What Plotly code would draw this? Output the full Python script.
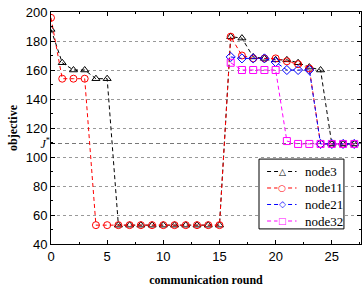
import plotly.graph_objects as go

rounds = list(range(28))
node3 = [188, 165, 160, 160, 154, 154, 53, 53, 53, 53, 53, 53, 53, 53, 53, 53,
         183, 182, 169, 168, 167, 167, 165, 162, 160, 109, 109, 109]
node11 = [196, 154, 154, 154, 53, 53, 53, 53, 53, 53, 53, 53, 53, 53, 53, 53,
          183, 170, 168, 168, 168, 166, 164, 161, 109, 109, 109, 109]
node21 = [None] * 16 + [169, 168, 168, 168, 165.5, 160, 160, 160, 109, 109, 109, 109]
node32 = [None] * 16 + [165, 160, 160, 160, 160, 111, 109, 109, 109, 109, 109, 109]
Jstar = 109

series = [
    ("node3", node3, "black", "triangle-up-open", "\u25B3"),
    ("node11", node11, "red", "circle-open", "\u25CB"),
    ("node21", node21, "blue", "diamond-open", "\u25C7"),
    ("node32", node32, "magenta", "square-open", "\u25A1"),
]

xticks = [0, 5, 10, 15, 20, 25]
yticks = [40, 60, 80, 100, 120, 140, 160, 180, 200]

DASH = "4px,3px"

fig = go.Figure()
for name, vals, col, sym, _g in series:
    fig.add_trace(go.Scatter(
        x=rounds, y=vals, name=name, mode="lines+markers",
        line=dict(color=col, width=1, dash=DASH),
        marker=dict(symbol=sym, size=7, color=col, line=dict(color=col, width=1)),
        connectgaps=False, showlegend=False,
    ))

fig.add_trace(go.Scatter(x=[0], y=[Jstar], yaxis="y2", mode="markers",
                         marker=dict(opacity=0), showlegend=False, hoverinfo="skip"))

serif = "Liberation Serif, Times New Roman"
tickfont = dict(family="Liberation Sans, Arial", size=13, color="black")

# manual legend (layout, paper coordinates)
shapes = [dict(type="rect", xref="paper", yref="paper", x0=0.671, x1=0.945,
               y0=0.065, y1=0.366, line=dict(color="black", width=1),
               fillcolor="white", layer="above")]
annotations = []
entry_y = [0.3125, 0.2414, 0.1703, 0.0991]
for (name, _v, col, _s, glyph), ly in zip(series, entry_y):
    shapes.append(dict(type="line", xref="paper", yref="paper", x0=0.697, x1=0.792,
                       y0=ly, y1=ly, line=dict(color=col, width=1, dash=DASH),
                       layer="above"))
    annotations.append(dict(xref="paper", yref="paper", x=0.746, y=ly, text=glyph,
                            showarrow=False, xanchor="center", yanchor="middle",
                            bgcolor="white", borderpad=0,
                            font=dict(family="DejaVu Sans", size=9, color=col)))
    annotations.append(dict(xref="paper", yref="paper", x=0.812, y=ly, text=name,
                            showarrow=False, xanchor="left", yanchor="middle",
                            font=dict(family=serif, size=13, color="black")))

fig.update_layout(
    width=362, height=288,
    margin=dict(l=51, r=1, t=12, b=44),
    paper_bgcolor="white", plot_bgcolor="white",
    showlegend=False,
    shapes=shapes, annotations=annotations,
    xaxis=dict(range=[0, 27.6], tickvals=xticks, ticks="inside", ticklen=4,
               tickcolor="black", showgrid=False, zeroline=False, automargin=False,
               showline=True, linecolor="black", linewidth=1, mirror="ticks",
               tickfont=tickfont,
               minor=dict(tickvals=[2.5, 7.5, 12.5, 17.5, 22.5, 27.5], ticks="inside",
                          ticklen=2, tickcolor="black"),
               title=dict(text="<b>communication round</b>", standoff=13,
                          font=dict(family=serif, size=12, color="black"))),
    yaxis=dict(range=[40, 200], tickvals=yticks, ticks="inside", ticklen=4,
               tickcolor="black", showgrid=True, gridcolor="#999999", griddash="dot",
               gridwidth=1, zeroline=False, automargin=False,
               showline=True, linecolor="black", linewidth=1, mirror="ticks",
               tickfont=tickfont,
               minor=dict(tickvals=[50, 70, 90, 110, 130, 150, 170, 190], ticks="inside",
                          ticklen=2, tickcolor="black"),
               title=dict(text="<b>objective</b>", standoff=5,
                          font=dict(family=serif, size=12, color="black"))),
    yaxis2=dict(range=[40, 200], overlaying="y", side="left", tickvals=[Jstar],
                ticktext=["<i>J</i><sup>*</sup>"], ticks="inside", ticklen=4, tickcolor="black",
                showgrid=True, gridcolor="#777777", griddash="4px,3px", gridwidth=1,
                zeroline=False, showline=False, automargin=False,
                tickfont=dict(family=serif, size=12, color="black")),
)

fig.write_html("out.html", config={"displayModeBar": False},
               post_script="document.body.style.margin='0';")
